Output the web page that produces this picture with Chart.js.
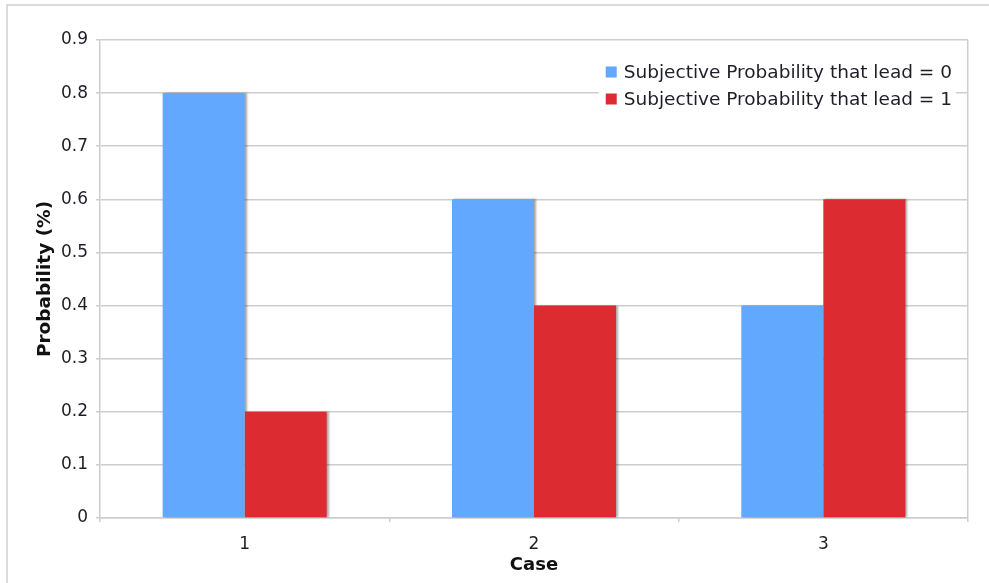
<!DOCTYPE html>
<html>
<head>
<meta charset="utf-8">
<script src="https://cdn.jsdelivr.net/npm/chart.js@4/dist/chart.umd.min.js"></script>
<style>
  html, body { margin: 0; padding: 0; background: #fff; }
  #wrap { width: 989px; height: 583px; position: relative; }
</style>
</head>
<body>
<div id="wrap"><canvas id="c" width="989" height="583"></canvas></div>
<script>
// Categories and series
const cases = ['1', '2', '3'];
const seriesNames = ['Subjective Probability that lead = 0', 'Subjective Probability that lead = 1'];
const lead0 = [0.8, 0.6, 0.4];
const lead1 = [0.2, 0.4, 0.6];
const yTicks = [0, 0.1, 0.2, 0.3, 0.4, 0.5, 0.6, 0.7, 0.8, 0.9];

const FONT = '"DejaVu Sans", Verdana, sans-serif';
const GRID = '#cdcdcd';
const TEXT = '#1e1e28';

// Thin grey frame around the whole figure
const framePlugin = {
  id: 'frame',
  beforeDraw(chart) {
    const ctx = chart.ctx;
    ctx.save();
    ctx.strokeStyle = '#cfcfcf';
    ctx.lineWidth = 1.5;
    ctx.beginPath();
    ctx.moveTo(7, chart.height);
    ctx.lineTo(7, 5);
    ctx.lineTo(chart.width, 5);
    ctx.stroke();
    ctx.restore();
  }
};

// Soft drop shadow on the right side of the bars; the first series'
// shadow is kept off the neighbouring bars of the second series.
const shadowPlugin = {
  id: 'barShadow',
  beforeDatasetDraw(chart, args) {
    const ctx = chart.ctx;
    ctx.save();
    if (args.index === 0) {
      ctx.beginPath();
      ctx.rect(0, 0, chart.width, chart.height);
      chart.getDatasetMeta(1).data.forEach(bar => {
        const p = bar.getProps(['x', 'y', 'base', 'width'], true);
        ctx.rect(p.x - p.width / 2, Math.min(p.y, p.base), p.width, Math.abs(p.base - p.y));
      });
      ctx.clip('evenodd');
    }
    ctx.shadowColor = 'rgba(0,0,0,0.35)';
    ctx.shadowOffsetX = 2;
    ctx.shadowOffsetY = 0;
    ctx.shadowBlur = 2;
  },
  afterDatasetDraw(chart) {
    chart.ctx.restore();
  }
};

// Legend boxed in white inside the top-right of the plot area
const insideLegend = {
  id: 'insideLegend',
  afterDatasetsDraw(chart) {
    const ctx = chart.ctx;
    const area = chart.chartArea;
    const sets = chart.data.datasets;
    ctx.save();
    ctx.font = '18.5px ' + FONT;
    const textW = Math.max(...sets.map(d => ctx.measureText(d.label).width));
    const textRight = area.right - 16;
    const textLeft = textRight - textW;
    const box = 11;
    const boxLeft = textLeft - 18;
    const rowY = [area.top + 32, area.top + 59];
    ctx.fillStyle = '#fff';
    ctx.fillRect(boxLeft - 7, rowY[0] - 14, textRight - boxLeft + 11, rowY[1] - rowY[0] + 28);
    sets.forEach((d, i) => {
      ctx.fillStyle = d.backgroundColor;
      ctx.fillRect(boxLeft, rowY[i] - box / 2, box, box);
      ctx.fillStyle = TEXT;
      ctx.textAlign = 'left';
      ctx.textBaseline = 'middle';
      ctx.fillText(d.label, textLeft, rowY[i] + 1);
    });
    ctx.restore();
  }
};

new Chart(document.getElementById('c'), {
  type: 'bar',
  data: {
    labels: cases,
    datasets: [
      { label: seriesNames[0], data: lead0, backgroundColor: '#62a8fe' },
      { label: seriesNames[1], data: lead1, backgroundColor: '#dc2c32' }
    ]
  },
  options: {
    responsive: false,
    animation: false,
    devicePixelRatio: 1,
    layout: { padding: { top: 40, right: 21, bottom: 0, left: 0 } },
    datasets: {
      bar: { categoryPercentage: 0.567, barPercentage: 1.0, borderWidth: 0 }
    },
    plugins: {
      legend: { display: false },
      tooltip: { enabled: false }
    },
    scales: {
      x: {
        offset: true,
        grid: {
          offset: true,
          drawOnChartArea: true,
          color: (c) => (c.type === 'scale' ? GRID : 'rgba(0,0,0,0)'),
          tickColor: GRID,
          tickLength: 4,
          lineWidth: 1.5
        },
        border: { display: true, color: GRID, width: 1.5 },
        ticks: { color: TEXT, font: { family: FONT, size: 17 }, padding: 12 },
        title: {
          display: true,
          text: 'Case',
          color: '#111',
          font: { family: FONT, size: 18, weight: 'bold' },
          padding: { top: 0, bottom: 7 }
        },
        afterFit(scale) { scale.height = 65; }
      },
      y: {
        min: 0,
        max: 0.9,
        afterBuildTicks(scale) { scale.ticks = yTicks.map(v => ({ value: v })); },
        grid: { color: GRID, tickColor: GRID, tickLength: 4, lineWidth: 1.5 },
        border: { display: true, color: GRID, width: 1.5 },
        ticks: {
          color: TEXT,
          font: { family: FONT, size: 17 },
          padding: 8,
          callback: (v) => String(Math.round(v * 10) / 10)
        },
        title: {
          display: true,
          text: 'Probability (%)',
          color: '#111',
          font: { family: FONT, size: 18.5, weight: 'bold' },
          padding: { top: 34, bottom: 0 }
        },
        afterFit(scale) { scale.width = 100; }
      }
    }
  },
  plugins: [framePlugin, shadowPlugin, insideLegend]
});
</script>
</body>
</html>
